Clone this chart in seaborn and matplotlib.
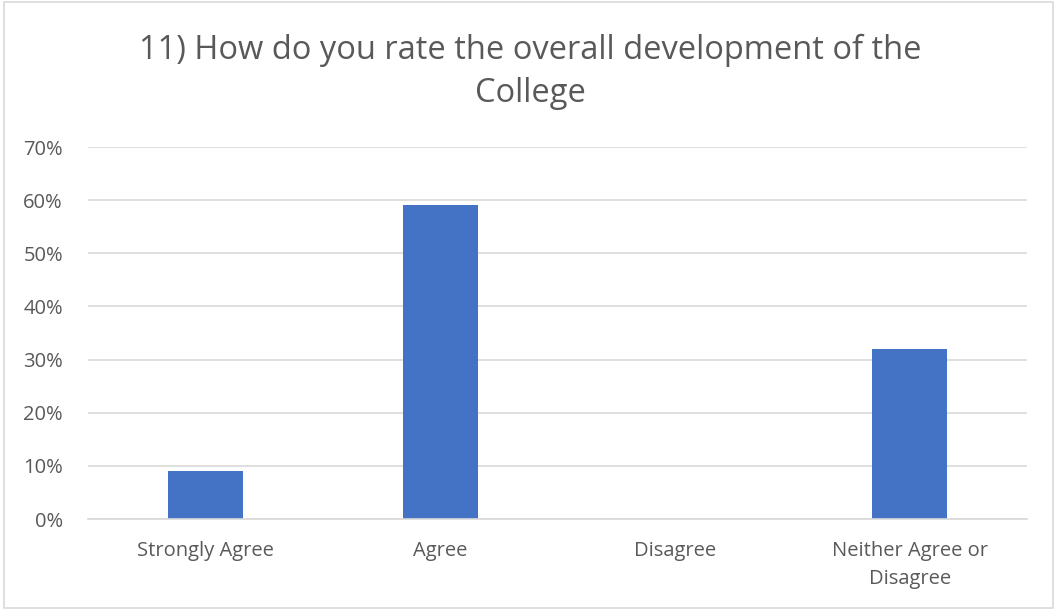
import matplotlib.pyplot as plt
import matplotlib.patches as mpatches
import pandas as pd
import seaborn as sns
from matplotlib.ticker import PercentFormatter

categories = ["Strongly Agree", "Agree", "Disagree", "Neither Agree or\nDisagree"]
percent = [9, 59, 0, 32]
title = "11) How do you rate the overall development of the\nCollege"

df = pd.DataFrame({"answer": categories, "pct": percent})

sns.set_theme(style="white")
plt.rcParams['font.family'] = ['Open Sans', 'DejaVu Sans']

TEXT = "#595959"
GRID = "#d9d9d9"
BAR = "#4472c4"

fig = plt.figure(figsize=(10.55, 6.10), dpi=100)
ax = fig.add_axes([0.0834, 0.149, 0.890, 0.610])

sns.barplot(data=df, x="answer", y="pct", color=BAR, width=0.32,
            saturation=1, ax=ax, linewidth=0)

ax.set_ylim(0, 70)
ax.set_yticks(range(0, 71, 10))
ax.yaxis.set_major_formatter(PercentFormatter(decimals=0))
ax.grid(axis='y', color=GRID, linewidth=1.2)
ax.set_axisbelow(True)
for side in ['top', 'right', 'left']:
    ax.spines[side].set_visible(False)
ax.spines['bottom'].set_color(GRID)
ax.spines['bottom'].set_linewidth(1.2)
ax.tick_params(axis='both', length=0, labelsize=14.5, colors=TEXT)
ax.tick_params(axis='x', pad=16)
ax.tick_params(axis='y', pad=18)
for lbl in ax.get_xticklabels():
    lbl.set_linespacing(1.5)
ax.set_xlabel("")
ax.set_ylabel("")

fig.text(0.503, 0.882, title, ha='center', va='center', fontsize=23.5,
         color=TEXT, linespacing=1.42)

fig.patches.append(mpatches.Rectangle(
    (0.004, 0.003), 0.994, 0.994, transform=fig.transFigure,
    fill=False, edgecolor=GRID, linewidth=1.2))

fig.savefig("out.png", dpi=100)
